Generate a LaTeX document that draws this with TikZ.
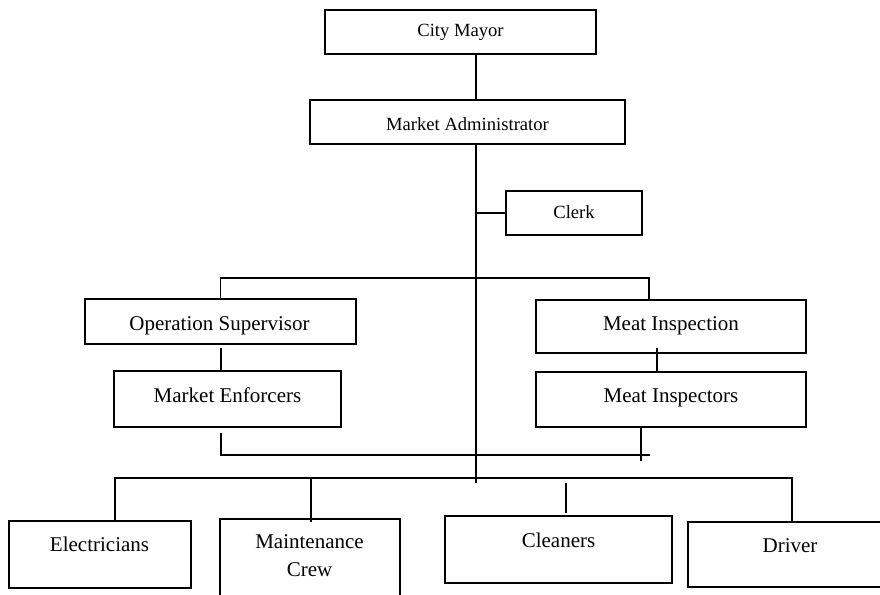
\documentclass[tikz,border=0pt]{standalone}
\usepackage{fontspec}
\setmainfont{Liberation Serif}
\begin{document}
\begin{tikzpicture}[x=1pt,y=-1pt,
  box/.style={draw, line width=1.3pt, inner sep=0pt, outer sep=0pt},
  smalltxt/.style={font=\fontsize{18.6}{22}\selectfont, anchor=base, inner sep=0pt},
  bigtxt/.style={font=\fontsize{21}{28}\selectfont, anchor=base, inner sep=0pt},
  conn/.style={line width=1.3pt}]
\useasboundingbox (0,0) rectangle (880,594);
\clip (0,0) rectangle (880,594);
% boxes
\node[box, minimum width=271pt, minimum height=44pt] (cm) at (460.5,32) {};
\node[box, minimum width=315pt, minimum height=44pt] (ma) at (467.5,122) {};
\node[box, minimum width=136pt, minimum height=44pt] (clerk) at (574,213) {};
\node[box, minimum width=271pt, minimum height=45pt] (os) at (220.5,321.5) {};
\node[box, minimum width=227pt, minimum height=56pt] (me) at (227.5,399) {};
\node[box, minimum width=270pt, minimum height=53pt] (mi) at (671,326.5) {};
\node[box, minimum width=270pt, minimum height=55pt] (mis) at (671,399.5) {};
\node[box, minimum width=182pt, minimum height=67pt] (el) at (100,554.5) {};
\node[box, minimum width=180pt, minimum height=91pt] (mc) at (310,564.5) {};
\node[box, minimum width=227pt, minimum height=67pt] (cl) at (558.5,549.5) {};
\node[box, minimum width=207pt, minimum height=65pt] (dr) at (791.5,554.5) {};
% texts
\node[smalltxt] (tcm) at (460.5,37) {City Mayor};
\node[smalltxt] (tma) at (467.5,130) {Market Administrator};
\node[smalltxt] (tclerk) at (574,218) {Clerk};
\node[bigtxt] (tos) at (219.5,330) {Operation Supervisor};
\node[bigtxt] (tme) at (227.5,402) {Market Enforcers};
\node[bigtxt] (tmi) at (671,330) {Meat Inspection};
\node[bigtxt] (tmis) at (671,402) {Meat Inspectors};
\node[bigtxt] (tel) at (99.5,551) {Electricians};
\node[bigtxt] (tmc1) at (309.5,548) {Maintenance};
\node[bigtxt] (tmc2) at (309.5,576) {Crew};
\node[bigtxt] (tcl) at (558.5,547) {Cleaners};
\node[bigtxt] (tdr) at (790,552) {Driver};
% connector coordinates
\coordinate (tx) at (476,0);
\coordinate (trunkend) at (476,483);
\coordinate (ubarR) at (649,278);
\coordinate (miTop) at (649,300);
\coordinate (osLow) at (221,348);
\coordinate (meTop) at (221,371);
\coordinate (meLow) at (221,433);
\coordinate (mbarR) at (650,455);
\coordinate (miLow) at (657,348);
\coordinate (misTop) at (657,372);
\coordinate (misLow) at (641,427);
\coordinate (misEnd) at (641,461);
\coordinate (elTop) at (115,521);
\coordinate (lbar) at (0,478);
\coordinate (drTop) at (792,522);
\coordinate (mcTop) at (311,522);
\coordinate (clHi) at (566,483);
\coordinate (clLo) at (566,513);
% connectors
\draw[conn] (cm.south -| tx) -- (ma.north -| tx);
\draw[conn] (ma.south -| tx) -- (trunkend);
\draw[conn] (clerk.west) -- (clerk.west -| tx);
\draw[conn] (os.north) |- (ubarR) -- (miTop);
\draw[conn] (osLow) -- (meTop);
\draw[conn] (meLow) |- (mbarR);
\draw[conn] (miLow) -- (misTop);
\draw[conn] (misLow) -- (misEnd);
\draw[conn] (elTop) |- (lbar -| drTop) -- (drTop);
\draw[conn] (mcTop) -- (mcTop |- lbar);
\draw[conn] (clHi) -- (clLo);
\end{tikzpicture}
\end{document}
